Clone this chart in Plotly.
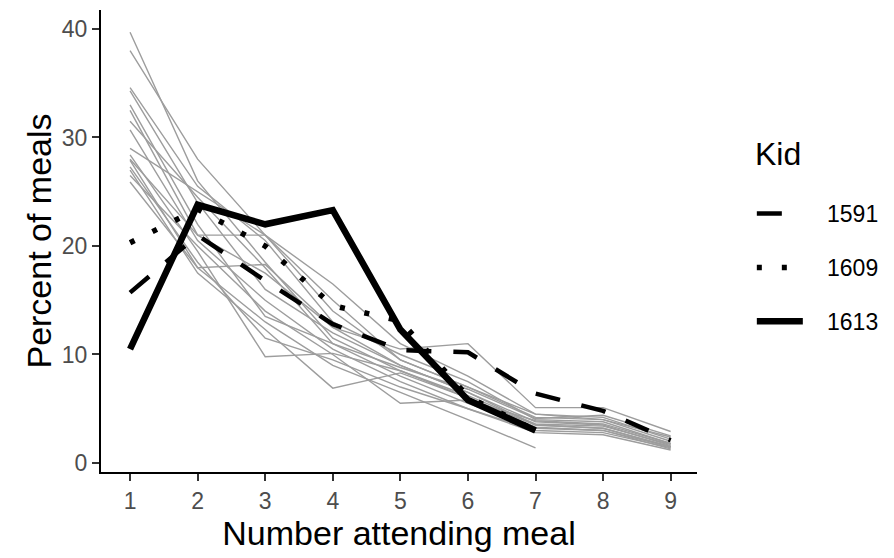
import plotly.graph_objects as go

# Number of people attending a meal
attending = [1, 2, 3, 4, 5, 6, 7, 8, 9]

# Other kids, drawn as thin grey background lines (percent of meals)
others = [
    [39.7, 26.0, 18.5, 11.5, 8.5, 6.0, 3.5, 3.2, 1.5],
    [38.0, 28.0, 21.0, 14.0, 9.5, 7.0, 4.5, 4.0, 2.0],
    [34.6, 25.5, 20.5, 13.0, 10.0, 7.5, 4.0, 3.8, 1.8],
    [34.3, 24.0, 16.0, 12.0, 9.0, 6.5, 3.8, 3.5, 1.6],
    [33.0, 22.0, 13.5, 11.0, 8.0, 5.5, 3.2, 3.0, 1.3],
    [32.5, 21.0, 17.5, 12.5, 10.5, 11.0, 5.1, 5.1, 2.9],
    [30.7, 20.5, 15.0, 10.5, 7.5, 5.0, 2.8, 2.6, 1.2],
    [29.0, 25.0, 21.0, 16.5, 11.0, 8.0, 4.5, 4.2, 2.2],
    [28.4, 19.5, 9.8, 10.1, 8.5, 6.2, 3.6, 3.4, 1.7],
    [27.9, 18.0, 18.3, 12.5, 9.0, 6.5, 3.5, 3.2, 1.5],
    [27.3, 18.5, 11.5, 9.5, 7.0, 5.0, 3.0, 2.8, 1.4],
    [27.0, 17.5, 12.3, 6.9, 8.3, 6.0, 3.3, 3.0, 1.5],
    [26.5, 20.0, 14.0, 10.0, 5.5, 5.8, 3.9, 3.6, 1.8],
    [25.9, 18.0, 13.0, 9.0, 6.5, 4.0, 1.4],
    [28.0, 21.0, 21.0, 15.0, 9.5, 7.0, 4.2, 4.0, 2.4],
    [31.5, 24.5, 18.0, 11.0, 8.8, 6.8, 4.1, 4.4, 2.5],
]

# Highlighted kids
kid_ids = ["1591", "1609", "1613"]
kid_1591 = [15.7, 21.0, 16.8, 12.8, 10.4, 10.2, 6.4, 4.8, 2.1]
kid_1609 = [20.3, 23.4, 20.0, 14.5, 13.1, 6.1, 3.0]
kid_1613 = [10.5, 23.8, 22.0, 23.3, 12.3, 5.8, 3.0]

x_ticks = [1, 2, 3, 4, 5, 6, 7, 8, 9]
y_ticks = [0, 10, 20, 30, 40]

FONT = "Liberation Sans, Arial, sans-serif"
NBSP = "\u00a0"

fig = go.Figure()

for vals in others:
    fig.add_trace(go.Scatter(
        x=attending[:len(vals)], y=vals, mode="lines",
        line=dict(color="#9d9d9d", width=1.4),
        showlegend=False, hoverinfo="skip",
    ))

styles = {
    "1591": dict(color="black", width=4.5, dash="25px,22px"),
    "1609": dict(color="black", width=5.5, dash="5px,20px"),
    "1613": dict(color="black", width=6.5, dash="solid"),
}
for kid, vals in zip(kid_ids, [kid_1591, kid_1609, kid_1613]):
    fig.add_trace(go.Scatter(
        x=attending[:len(vals)], y=vals, mode="lines",
        line=styles[kid], name=NBSP * 3 + kid, legendgroup=kid,
    ))

axis_common = dict(
    showgrid=False, zeroline=False,
    showline=True, linecolor="black", linewidth=2,
    ticks="outside", ticklen=7, tickwidth=1.5, tickcolor="#333333",
    tickfont=dict(size=23, color="#4d4d4d", family=FONT),
)

fig.update_layout(
    width=894, height=558,
    margin=dict(l=101, r=197, t=10, b=86),
    paper_bgcolor="white", plot_bgcolor="white",
    font=dict(family=FONT, color="black"),
    xaxis=dict(
        range=[0.57, 9.39], tickvals=x_ticks, ticktext=[str(v) for v in x_ticks],
        title=dict(text="Number attending meal",
                   font=dict(size=34, color="black", family=FONT), standoff=9),
        **axis_common,
    ),
    yaxis=dict(
        range=[-0.83, 41.75], tickvals=y_ticks, ticktext=[str(v) for v in y_ticks],
        title=dict(text="Percent of meals",
                   font=dict(size=34, color="black", family=FONT), standoff=0),
        **axis_common,
    ),
    legend=dict(
        x=1.092, y=0.606, xanchor="left", yanchor="top",
        font=dict(size=23, color="black", family=FONT),
        itemwidth=46, tracegroupgap=21, bgcolor="rgba(0,0,0,0)",
    ),
    annotations=[dict(
        text="Kid", xref="paper", yref="paper",
        x=(753 - 101) / 596, y=(472 - 154) / 462,
        xanchor="left", yanchor="middle", showarrow=False,
        font=dict(size=32, color="black", family=FONT),
    )],
)

fig.write_html("out.html")
